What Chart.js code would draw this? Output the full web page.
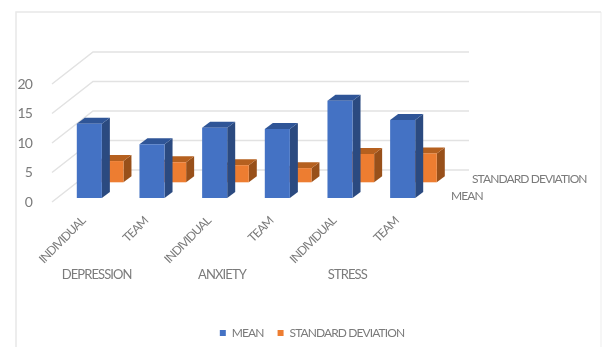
<!DOCTYPE html>
<html>
<head>
<meta charset="utf-8">
<title>Mean and standard deviation</title>
<script src="https://cdn.jsdelivr.net/npm/chart.js@4"></script>
<style>
  html, body { margin: 0; padding: 0; background: #fff; }
  #wrap { position: relative; width: 602px; height: 347px; }
</style>
</head>
<body>
<div id="wrap"><canvas id="myChart"></canvas></div>
<script>
const categories = ['INDIVIDUAL', 'TEAM', 'INDIVIDUAL', 'TEAM', 'INDIVIDUAL', 'TEAM'];
const groupNames = ['DEPRESSION', 'ANXIETY', 'STRESS'];
const meanValues = [12.6, 9.1, 11.9, 11.7, 16.5, 13.2];
const sdValues = [3.6, 3.4, 2.9, 2.4, 4.8, 4.9];
const yTicks = [0, 5, 10, 15, 20];

const textColor = '#7b7b7b';
const fontName = 'Lato, sans-serif';
// Lato runs wide, tighten it a bit everywhere
const tightText = '-0.9px';

// each series sits on its own row of the floor, faces are worked out per dataset
const rows = [
  { dx: 6, dy: -4, side: '#2b4a80', top: '#2f5597' },
  { dx: 27.6, dy: -19.7, side: '#98501a', top: '#b5601f' }
];
const barDepth = { x: 8, y: -6 };
const wallDepth = { x: 41, y: -32 };

function polygon(ctx, pts, color) {
  ctx.fillStyle = color;
  ctx.beginPath();
  pts.forEach((p, i) => (i ? ctx.lineTo(p[0], p[1]) : ctx.moveTo(p[0], p[1])));
  ctx.closePath();
  ctx.fill();
}

const wallPlugin = {
  id: 'wall',
  beforeUpdate(chart) {
    chart.ctx.letterSpacing = tightText;
  },
  afterLayout(chart) {
    // legend is centred on the whole page rather than on the plot
    chart.legend.left += 98;
    chart.legend.right += 98;
    chart.legend.top += 4;
    chart.legend.bottom += 4;
  },
  beforeDatasetsDraw(chart) {
    const { ctx, chartArea, scales } = chart;
    ctx.save();
    // outer frame
    ctx.lineWidth = 1.5;
    ctx.strokeStyle = '#f3f3f3';
    ctx.beginPath();
    ctx.moveTo(601, 12);
    ctx.lineTo(601, 347);
    ctx.stroke();
    ctx.strokeStyle = '#e8e8e8';
    ctx.beginPath();
    ctx.moveTo(16, 347);
    ctx.lineTo(16, 12);
    ctx.lineTo(601, 12);
    ctx.stroke();
    // grid runs along the floor side, then across the back wall
    ctx.strokeStyle = '#e2e2e2';
    yTicks.forEach(v => {
      const py = scales.y.getPixelForValue(v);
      ctx.beginPath();
      ctx.moveTo(chartArea.left, py);
      ctx.lineTo(chartArea.left + wallDepth.x, py + wallDepth.y);
      ctx.lineTo(chartArea.right + wallDepth.x, py + wallDepth.y);
      ctx.stroke();
    });
    ctx.restore();
  },
  afterDraw(chart) {
    const { ctx, chartArea, scales } = chart;
    ctx.save();
    ctx.fillStyle = textColor;
    ctx.textBaseline = 'middle';
    ctx.textAlign = 'center';
    ctx.font = '13px ' + fontName;
    // group names sit under each pair of categories
    groupNames.forEach((name, i) => {
      const a = scales.x.getPixelForValue(i * 2);
      const b = scales.x.getPixelForValue(i * 2 + 1);
      ctx.fillText(name, (a + b) / 2 - 18, 275);
    });
    // series names on the depth axis
    ctx.textAlign = 'left';
    ctx.font = '12px ' + fontName;
    ctx.fillText(chart.data.datasets[0].label, chartArea.right + 23, 196);
    ctx.fillText(chart.data.datasets[1].label, chartArea.right + 44, 179);
    ctx.restore();
  },
  beforeDatasetDraw(chart, args) {
    const { ctx } = chart;
    const row = rows[args.index];
    ctx.save();
    ctx.translate(row.dx, row.dy);
    args.meta.data.forEach(bar => {
      const p = bar.getProps(['x', 'y', 'base', 'width'], true);
      const l = p.x - p.width / 2;
      const r = p.x + p.width / 2;
      polygon(ctx, [[r, p.y], [r + barDepth.x, p.y + barDepth.y], [r + barDepth.x, p.base + barDepth.y], [r, p.base]], row.side);
      polygon(ctx, [[l, p.y], [l + barDepth.x, p.y + barDepth.y], [r + barDepth.x, p.y + barDepth.y], [r, p.y]], row.top);
    });
  },
  afterDatasetDraw(chart) {
    chart.ctx.restore();
  }
};

new Chart(document.getElementById('myChart'), {
  type: 'bar',
  data: {
    labels: categories,
    datasets: [
      { label: 'MEAN', data: meanValues, backgroundColor: '#4472c4', clip: false },
      { label: 'STANDARD DEVIATION', data: sdValues, backgroundColor: '#ed7d31', clip: false }
    ]
  },
  options: {
    responsive: true,
    maintainAspectRatio: false,
    animation: false,
    layout: { padding: { top: 84, right: 174, left: 0, bottom: 2 } },
    datasets: { bar: { grouped: false, barPercentage: 0.4, categoryPercentage: 1 } },
    scales: {
      x: {
        grid: { display: false },
        border: { display: false },
        afterFit: scale => { scale.height = 107; },
        ticks: {
          autoSkip: false,
          minRotation: 45,
          maxRotation: 45,
          padding: 4,
          color: textColor,
          font: { family: fontName, size: 12 }
        }
      },
      y: {
        min: 0,
        max: 20,
        grid: { display: false },
        border: { display: false },
        afterFit: scale => { scale.width = 52; },
        ticks: {
          stepSize: 5,
          padding: 12,
          color: textColor,
          font: { family: fontName, size: 14 }
        }
      }
    },
    plugins: {
      tooltip: { enabled: false },
      legend: {
        position: 'bottom',
        labels: {
          boxWidth: 6,
          boxHeight: 6,
          color: textColor,
          padding: 14,
          font: { family: fontName, size: 12 }
        }
      }
    }
  },
  plugins: [wallPlugin]
});
</script>
</body>
</html>
